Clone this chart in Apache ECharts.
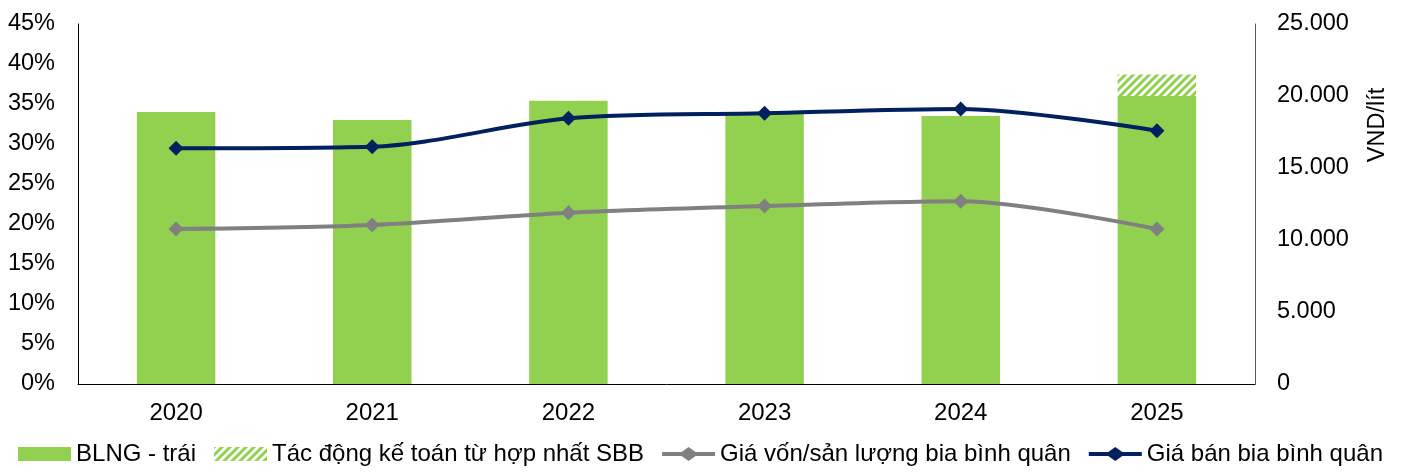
<!DOCTYPE html>
<html>
<head>
<meta charset="utf-8">
<script src="https://cdn.jsdelivr.net/npm/echarts@6/dist/echarts.min.js"></script>
<style>
  html, body { margin: 0; padding: 0; background: #fff; }
  #main { width: 1401px; height: 475px; }
</style>
</head>
<body>
<div id="main"></div>
<script>
// du lieu doc tu hinh
var years = ['2020', '2021', '2022', '2023', '2024', '2025'];
var blng = [34.0, 33.0, 35.4, 33.8, 33.5, 36.0];          // % - truc trai
var tacDongSBB = [null, null, null, null, null, 2.7];    // phan gach cheo 2025
var giaVon = [10760, 11040, 11900, 12360, 12690, 10760];  // VND/lit
var giaBan = [16370, 16480, 18450, 18800, 19100, 17590];  // VND/lit

var FONT = 'Liberation Sans, Arial, sans-serif';
var GREEN = '#92D050';
var NAVY = '#002060';
var GRAY = '#808080';

// icon chu thich: duong + hinh thoi
var LINE_ICON = 'path://M0,5 L19.5,5 L26.5,0 L33.5,5 L53,5 L53,9 L33.5,9 L26.5,14 L19.5,9 L0,9 Z';

// hoa van gach cheo cho cot SBB
function hatch() {
    var c = document.createElement('canvas');
    c.width = 8; c.height = 8;
    var ctx = c.getContext('2d');
    ctx.fillStyle = '#fff';
    ctx.fillRect(0, 0, 8, 8);
    ctx.strokeStyle = GREEN;
    ctx.lineWidth = 3;
    ctx.beginPath();
    ctx.moveTo(-4, 4); ctx.lineTo(4, -4);
    ctx.moveTo(0, 8); ctx.lineTo(8, 0);
    ctx.moveTo(4, 12); ctx.lineTo(12, 4);
    ctx.stroke();
    return c;
}

function dotThousands(v) {
    return String(v).replace(/\B(?=(\d{3})+(?!\d))/g, '.');
}

var chart = echarts.init(document.getElementById('main'), null, {renderer: 'canvas'});

var option = {
    animation: false,
    textStyle: {fontFamily: FONT},
    grid: {left: 78, right: 146, top: 24, bottom: 91},
    legend: {
        bottom: 4,
        left: 'center',
        itemWidth: 53,
        itemHeight: 14,
        itemGap: 18,
        textStyle: {fontFamily: FONT, fontSize: 24, color: '#000'},
        data: [
            {name: 'BLNG - trái', icon: 'rect'},
            {name: 'Tác động kế toán từ hợp nhất SBB', icon: 'rect'},
            {name: 'Giá vốn/sản lượng bia bình quân', icon: LINE_ICON, itemStyle: {color: GRAY, borderWidth: 0}},
            {name: 'Giá bán bia bình quân', icon: LINE_ICON, itemStyle: {color: NAVY, borderWidth: 0}}
        ]
    },
    xAxis: {
        type: 'category',
        data: years,
        axisLine: {lineStyle: {color: '#000', width: 1}},
        axisTick: {show: false},
        axisLabel: {color: '#000', fontSize: 24, fontFamily: FONT, margin: 17}
    },
    yAxis: [
        {
            type: 'value',
            min: 0, max: 45, interval: 5,
            axisLine: {show: true, lineStyle: {color: '#000', width: 1}},
            axisTick: {show: false},
            splitLine: {show: false},
            axisLabel: {color: '#000', fontSize: 23.5, fontFamily: FONT, margin: 23, formatter: '{value}%'}
        },
        {
            type: 'value',
            min: 0, max: 25000, interval: 5000,
            position: 'right',
            axisLine: {show: true, lineStyle: {color: '#595959', width: 1}},
            axisTick: {show: false},
            splitLine: {show: false},
            axisLabel: {color: '#000', fontSize: 23.5, fontFamily: FONT, margin: 22, formatter: dotThousands}
        }
    ],
    graphic: [{
        type: 'text',
        x: 1378, y: 125,
        rotation: Math.PI / 2,
        style: {text: 'VND/lít', font: '23.5px ' + FONT, fill: '#000', align: 'center', verticalAlign: 'middle'}
    }],
    series: [
        {
            name: 'BLNG - trái',
            type: 'bar',
            stack: 'blng',
            barWidth: '40%',
            itemStyle: {color: GREEN},
            data: blng
        },
        {
            name: 'Tác động kế toán từ hợp nhất SBB',
            type: 'bar',
            stack: 'blng',
            barWidth: '40%',
            itemStyle: {color: {image: hatch(), repeat: 'repeat'}},
            data: tacDongSBB
        },
        {
            name: 'Giá vốn/sản lượng bia bình quân',
            type: 'line',
            yAxisIndex: 1,
            smooth: 0.3,
            symbol: 'diamond',
            symbolSize: 15,
            z: 3,
            lineStyle: {color: GRAY, width: 4},
            itemStyle: {color: GRAY},
            data: giaVon
        },
        {
            name: 'Giá bán bia bình quân',
            type: 'line',
            yAxisIndex: 1,
            smooth: 0.3,
            symbol: 'diamond',
            symbolSize: 15,
            z: 4,
            lineStyle: {color: NAVY, width: 4},
            itemStyle: {color: NAVY},
            data: giaBan
        }
    ]
};

chart.setOption(option);
</script>
</body>
</html>
